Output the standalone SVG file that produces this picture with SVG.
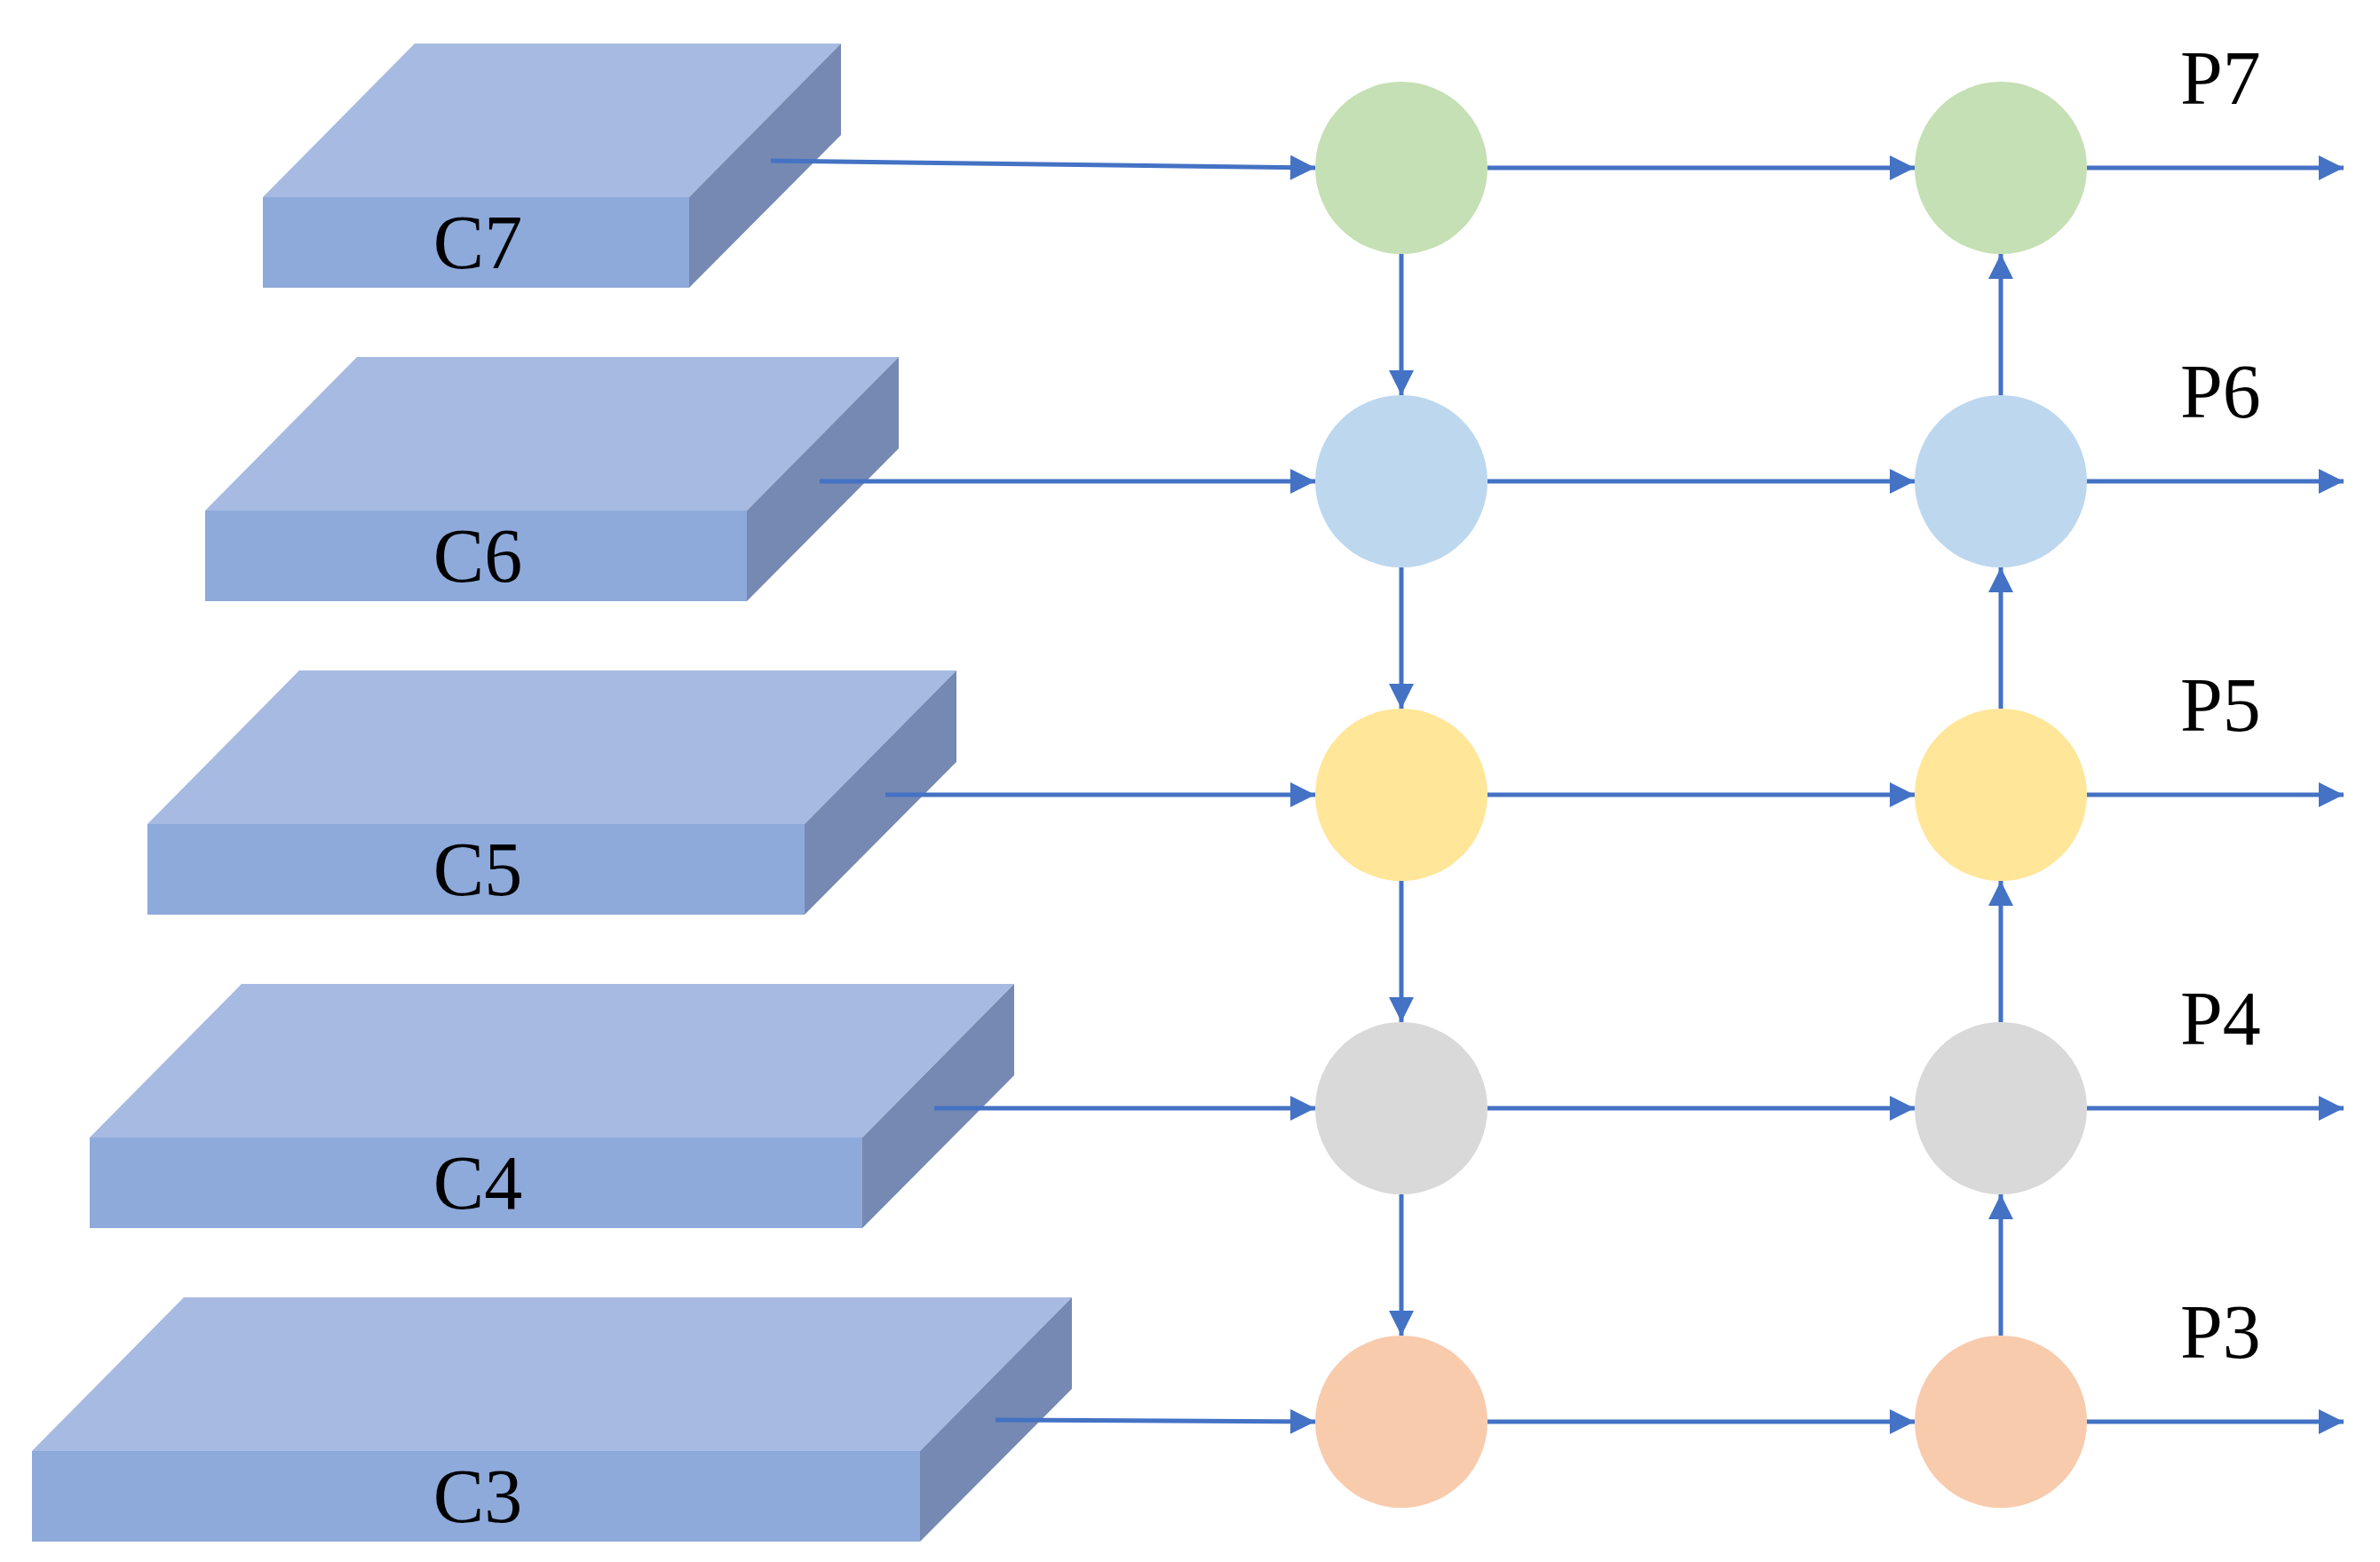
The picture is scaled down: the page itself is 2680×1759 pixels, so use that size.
<svg xmlns="http://www.w3.org/2000/svg" width="2680" height="1759" viewBox="0 0 2680 1759">
<style>
.top{fill:#A7BAE2}.front{fill:#8EAADB}.side{fill:#7589B2}
.lbl{font-family:"Liberation Serif",serif;font-size:86px;fill:#000}
.ln{stroke:#4472C4;stroke-width:5;fill:none;marker-end:url(#ah)}
</style>
<defs><marker id="ah" viewBox="0 0 10 10" refX="10" refY="5" markerWidth="6" markerHeight="5.6" orient="auto" markerUnits="strokeWidth"><path d="M0,0L10,5L0,10Z" fill="#4472C4"/></marker></defs>
<rect width="2680" height="1759" fill="#fff"/>
<g id="C7"><polygon class="top" points="296,222 467,49 947,49 776,222"/><polygon class="side" points="776,222 947,49 947,152 776,324"/><rect class="front" x="296" y="222" width="480" height="102"/><text class="lbl" x="538" y="302" text-anchor="middle">C7</text></g>
<g id="C6"><polygon class="top" points="231,575 402,402 1012,402 841,575"/><polygon class="side" points="841,575 1012,402 1012,505 841,677"/><rect class="front" x="231" y="575" width="610" height="102"/><text class="lbl" x="538" y="655" text-anchor="middle">C6</text></g>
<g id="C5"><polygon class="top" points="166,928 337,755 1077,755 906,928"/><polygon class="side" points="906,928 1077,755 1077,858 906,1030"/><rect class="front" x="166" y="928" width="740" height="102"/><text class="lbl" x="538" y="1008" text-anchor="middle">C5</text></g>
<g id="C4"><polygon class="top" points="101,1281 272,1108 1142,1108 971,1281"/><polygon class="side" points="971,1281 1142,1108 1142,1211 971,1383"/><rect class="front" x="101" y="1281" width="870" height="102"/><text class="lbl" x="538" y="1361" text-anchor="middle">C4</text></g>
<g id="C3"><polygon class="top" points="36,1634 207,1461 1207,1461 1036,1634"/><polygon class="side" points="1036,1634 1207,1461 1207,1564 1036,1736"/><rect class="front" x="36" y="1634" width="1000" height="102"/><text class="lbl" x="538" y="1714" text-anchor="middle">C3</text></g>
<g id="N1"><circle cx="1578" cy="189" r="97" fill="#C5E0B4"/><circle cx="2253" cy="189" r="97" fill="#C5E0B4"/></g>
<g id="N2"><circle cx="1578" cy="542" r="97" fill="#BDD7EE"/><circle cx="2253" cy="542" r="97" fill="#BDD7EE"/></g>
<g id="N3"><circle cx="1578" cy="895" r="97" fill="#FFE699"/><circle cx="2253" cy="895" r="97" fill="#FFE699"/></g>
<g id="N4"><circle cx="1578" cy="1248" r="97" fill="#D9D9D9"/><circle cx="2253" cy="1248" r="97" fill="#D9D9D9"/></g>
<g id="N5"><circle cx="1578" cy="1601" r="97" fill="#F8CBAD"/><circle cx="2253" cy="1601" r="97" fill="#F8CBAD"/></g>
<g id="plabels" class="lbl"><text x="2455" y="117">P7</text><text x="2455" y="470">P6</text><text x="2455" y="823">P5</text><text x="2455" y="1176">P4</text><text x="2455" y="1529">P3</text></g>
<g id="connectors">
<path class="ln" d="M868,181L1481,189"/><path class="ln" d="M923,542H1481"/><path class="ln" d="M997,895H1481"/><path class="ln" d="M1052,1248H1481"/><path class="ln" d="M1121,1599L1481,1601"/>
<path class="ln" d="M1675,189H2156"/><path class="ln" d="M1675,542H2156"/><path class="ln" d="M1675,895H2156"/><path class="ln" d="M1675,1248H2156"/><path class="ln" d="M1675,1601H2156"/>
<path class="ln" d="M2350,189H2639"/><path class="ln" d="M2350,542H2639"/><path class="ln" d="M2350,895H2639"/><path class="ln" d="M2350,1248H2639"/><path class="ln" d="M2350,1601H2639"/>
<path class="ln" d="M1578,286V445"/><path class="ln" d="M1578,639V798"/><path class="ln" d="M1578,992V1151"/><path class="ln" d="M1578,1345V1504"/>
<path class="ln" d="M2253,445V286"/><path class="ln" d="M2253,798V639"/><path class="ln" d="M2253,1151V992"/><path class="ln" d="M2253,1504V1345"/>
</g>
</svg>
